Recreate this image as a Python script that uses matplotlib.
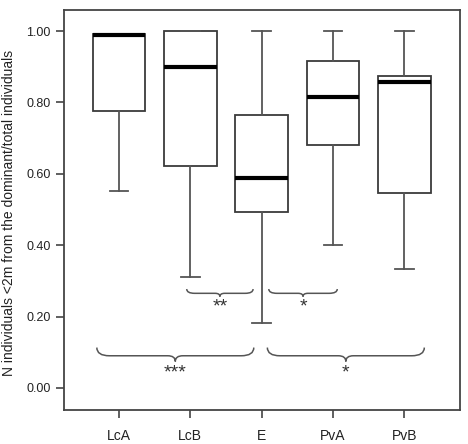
import matplotlib
matplotlib.use("Agg")
import matplotlib.pyplot as plt
from matplotlib.path import Path
from matplotlib.patches import PathPatch

plt.rcParams['font.family'] = ['Liberation Sans', 'DejaVu Sans']

# ---- data ----
groups = ["LcA", "LcB", "E", "PvA", "PvB"]
whislo = [0.553, 0.310, 0.182, 0.400, 0.332]
q1     = [0.775, 0.621, 0.492, 0.680, 0.546]
med    = [0.990, 0.898, 0.589, 0.816, 0.858]
q3     = [0.993, 1.000, 0.764, 0.917, 0.875]
whishi = [0.993, 1.000, 1.000, 1.000, 1.000]

yticks = [0.0, 0.2, 0.4, 0.6, 0.8, 1.0]
ylabel = "N individuals <2m from the dominant/total individuals"

# significance braces
brace_x0 = [1.95, 3.10, 0.69, 3.08]
brace_x1 = [2.88, 4.06, 2.89, 5.28]
brace_lab = ["**", "*", "***", "*"]
brace_yend = [0.277, 0.277, 0.113, 0.113]
brace_yline = [0.265, 0.265, 0.090, 0.090]
brace_ytip = [0.256, 0.256, 0.074, 0.074]
brace_ylab = [0.228, 0.228, 0.042, 0.042]

fig = plt.figure(figsize=(4.68, 4.44), dpi=100)
ax = fig.add_axes([64/468, 34/444, 396/468, 400/444])

stats = []
for i, g in enumerate(groups):
    stats.append(dict(label=g, whislo=whislo[i], q1=q1[i], med=med[i],
                      q3=q3[i], whishi=whishi[i], fliers=[]))

edge = "#3a3a3a"
ax.bxp(stats, positions=range(1, 6), widths=0.74, capwidths=0.26,
       showfliers=False, patch_artist=True,
       boxprops=dict(facecolor="white", edgecolor=edge, linewidth=1.3),
       whiskerprops=dict(color="#555555", linewidth=1.3),
       capprops=dict(color="#555555", linewidth=1.3),
       medianprops=dict(color="black", linewidth=3.0, solid_capstyle="butt"))

def brace(x0, x1, yend, yline, ytip):
    xm = (x0 + x1) / 2
    r = 0.12 * (x1 - x0) if (x1 - x0) < 1.5 else 0.08 * (x1 - x0)
    r = min(r, 0.18)
    rt = r * 0.6
    verts = [(x0, yend), (x0, yline), (x0 + r, yline),
             (xm - rt, yline),
             (xm, yline), (xm, ytip),
             (xm, yline), (xm + rt, yline),
             (x1 - r, yline),
             (x1, yline), (x1, yend)]
    codes = [Path.MOVETO, Path.CURVE3, Path.CURVE3,
             Path.LINETO,
             Path.CURVE3, Path.CURVE3,
             Path.CURVE3, Path.CURVE3,
             Path.LINETO,
             Path.CURVE3, Path.CURVE3]
    ax.add_patch(PathPatch(Path(verts, codes), facecolor="none",
                           edgecolor="#555555", linewidth=1.1))

for i in range(len(brace_lab)):
    brace(brace_x0[i], brace_x1[i], brace_yend[i], brace_yline[i], brace_ytip[i])
    ax.text((brace_x0[i] + brace_x1[i]) / 2, brace_ylab[i], brace_lab[i],
            ha="center", va="center", fontsize=14, color="#333333")

ax.set_xlim(0.23, 5.78)
ax.set_ylim(-0.062, 1.059)
ax.set_xticks(range(1, 6))
ax.set_xticklabels(groups, fontsize=10, color="#222222")
ax.set_yticks(yticks)
ax.set_yticklabels([f"{v:.2f}" for v in yticks], fontsize=9, color="#222222")
ax.tick_params(axis="both", direction="out", length=6, width=1.2, color="#444444")
ax.tick_params(axis="x", pad=8)
for s in ax.spines.values():
    s.set_color("#444444")
    s.set_linewidth(1.3)

fig.text(9/468, 1 - 213/444, ylabel, rotation=90, ha="center", va="center",
         fontsize=10, color="#222222")

fig.savefig("out.png", dpi=100)
